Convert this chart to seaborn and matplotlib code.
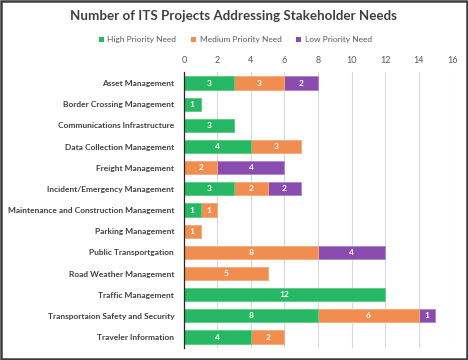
import pandas as pd
import matplotlib
matplotlib.use("Agg")
import matplotlib.pyplot as plt
from matplotlib.patches import Rectangle, Patch
import seaborn as sns

# Chart data
categories = ["Asset Management", "Border Crossing Management", "Communications Infrastructure",
              "Data Collection Management", "Freight Management", "Incident/Emergency Management",
              "Maintenance and Construction Management", "Parking Management", "Public Transportgation",
              "Road Weather Management", "Traffic Management", "Transportaion Safety and Security",
              "Traveler Information"]
high = [3, 1, 3, 4, 0, 3, 1, 0, 0, 0, 12, 8, 4]
medium = [3, 0, 0, 3, 2, 2, 1, 1, 8, 5, 0, 6, 2]
low = [2, 0, 0, 0, 4, 2, 0, 0, 4, 0, 0, 1, 0]
series_names = ["High Priority Need", "Medium Priority Need", "Low Priority Need"]
x_ticks = [0, 2, 4, 6, 8, 10, 12, 14, 16]

colors = ["#27B864", "#F08D4F", "#8B4CB0"]
edges = ["#5fd08f", "#f6b48a", "#ad85cc"]

df = pd.DataFrame({"Category": categories, "High": high, "Medium": medium, "Low": low})
df["HM"] = df["High"] + df["Medium"]
df["Total"] = df["HM"] + df["Low"]

sns.set_style("white")
plt.rcParams["font.family"] = ["Lato", "DejaVu Sans"]

fig = plt.figure(figsize=(4.68, 3.6), dpi=100)
ax = fig.add_axes([0.393, 0.0344, 0.573, 0.7644])

# stacked bars drawn as layered cumulative totals
for col, c, e in [("Total", colors[2], edges[2]), ("HM", colors[1], edges[1]), ("High", colors[0], edges[0])]:
    sns.barplot(data=df, x=col, y="Category", color=c, orient="h", width=0.62,
                edgecolor=e, linewidth=0.6, saturation=1, ax=ax)

# segment labels
for i, row in df.iterrows():
    starts = [0, row["High"], row["HM"]]
    vals = [row["High"], row["Medium"], row["Low"]]
    for s, v in zip(starts, vals):
        if v > 0:
            ax.text(s + v / 2, i, str(v), ha="center", va="center", color="white",
                    fontsize=6, fontweight="bold")

ax.set_xlim(0, 16)
ax.set_xticks(x_ticks)
ax.xaxis.tick_top()
ax.tick_params(axis="x", length=0, pad=5, labelsize=6.5, labelcolor="#595959")
ax.tick_params(axis="y", length=0, pad=7, labelsize=6)
for lab in ax.get_yticklabels():
    lab.set_fontweight("bold")
    lab.set_color("#404040")
ax.set_xlabel("")
ax.set_ylabel("")
ax.grid(axis="x", color="#D9D9D9", linewidth=0.8)
ax.set_axisbelow(True)
for side in ["top", "right", "bottom"]:
    ax.spines[side].set_visible(False)
ax.spines["left"].set_color("#262626")
ax.spines["left"].set_linewidth(0.9)

fig.suptitle("Number of ITS Projects Addressing Stakeholder Needs", y=0.972,
             fontsize=9.6, fontweight="bold", color="#404040")

handles = [Patch(facecolor=c, edgecolor="none") for c in colors]
fig.legend(handles, series_names, loc="center", bbox_to_anchor=(0.503, 0.889), ncol=3,
           frameon=False, fontsize=6, handlelength=0.6, handleheight=0.6,
           handletextpad=0.4, columnspacing=1.8, labelcolor="#595959")

fig.patches.append(Rectangle((0.002, 0.003), 0.995, 0.994, transform=fig.transFigure,
                             fill=False, edgecolor="#3c3c3c", linewidth=1.8))

fig.savefig("out.png", dpi=100)
